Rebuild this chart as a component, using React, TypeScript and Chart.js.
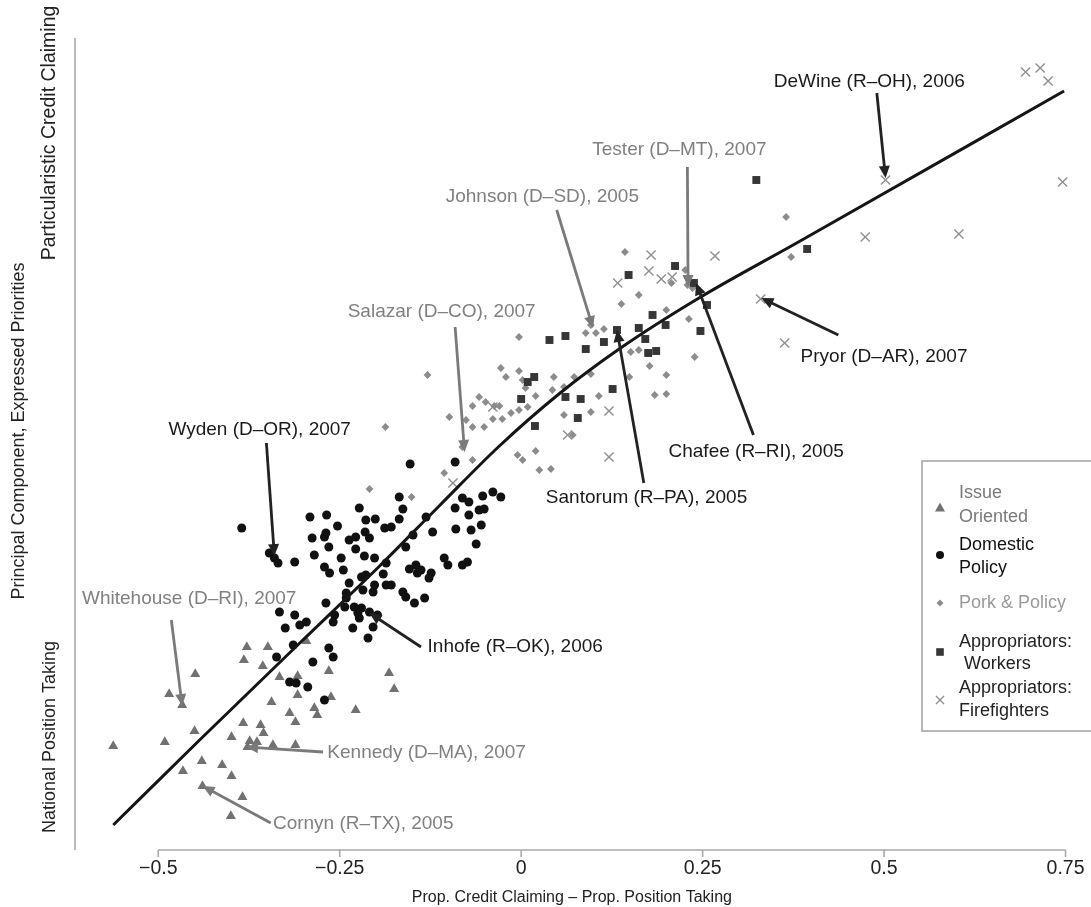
import React, { useEffect, useRef } from "react";
import { Chart, registerables } from "chart.js";

Chart.register(...registerables);

// ---------- axis ----------
const xTicks = [-0.5, -0.25, 0, 0.25, 0.5, 0.75];
const xTickLabels = ["\u22120.5", "\u22120.25", "0", "0.25", "0.5", "0.75"];
const xTitle = "Prop. Credit Claiming \u2013 Prop. Position Taking";
const yTitle = "Principal Component, Expressed Priorities";
const yTopLabel = "Particularistic Credit Claiming";
const yBottomLabel = "National Position Taking";

// ---------- series ----------
const issueOriented: [number, number][] = [
  [-0.562, -2.96], [-0.491, -2.92], [-0.485, -2.44], [-0.467, -2.55], [-0.449, -2.24],
  [-0.45, -2.81], [-0.466, -3.21], [-0.44, -3.11], [-0.412, -3.15], [-0.399, -3.26],
  [-0.439, -3.36], [-0.384, -3.47], [-0.4, -3.66], [-0.399, -2.87], [-0.383, -2.73],
  [-0.359, -2.75], [-0.355, -2.83], [-0.374, -2.91], [-0.364, -2.92], [-0.342, -2.95],
  [-0.311, -2.95], [-0.377, -2.97], [-0.378, -1.97], [-0.349, -1.97], [-0.382, -2.1],
  [-0.356, -2.16], [-0.333, -2.27], [-0.308, -2.26], [-0.265, -2.21], [-0.182, -2.23],
  [-0.175, -2.39], [-0.308, -2.45], [-0.344, -2.52], [-0.262, -2.47], [-0.319, -2.63],
  [-0.311, -2.72], [-0.285, -2.58], [-0.281, -2.65], [-0.228, -2.6], [-0.296, -1.91],
];

const domesticPolicy: [number, number][] = [
  [-0.153, -0.14], [-0.091, -0.12], [-0.385, -0.78], [-0.347, -1.03], [-0.34, -1.08],
  [-0.335, -1.13], [-0.312, -1.12], [-0.291, -0.67], [-0.268, -0.65], [-0.223, -0.58],
  [-0.168, -0.47], [-0.163, -0.59], [-0.214, -0.7], [-0.201, -0.69], [-0.188, -0.78],
  [-0.179, -0.77], [-0.168, -0.69], [-0.131, -0.67], [-0.122, -0.82], [-0.091, -0.58],
  [-0.09, -0.79], [-0.253, -0.76], [-0.288, -0.88], [-0.271, -0.87], [-0.269, -0.83],
  [-0.265, -0.97], [-0.237, -0.9], [-0.228, -0.87], [-0.215, -0.82], [-0.209, -0.88],
  [-0.228, -0.99], [-0.216, -1.06], [-0.202, -1.08], [-0.285, -1.05], [-0.248, -1.08],
  [-0.271, -1.17], [-0.264, -1.23], [-0.245, -1.2], [-0.186, -1.13], [-0.159, -0.97],
  [-0.149, -0.85], [-0.145, -1.15], [-0.138, -1.2], [-0.106, -1.08], [-0.101, -1.15],
  [-0.22, -1.27], [-0.19, -1.24], [-0.154, -1.19], [-0.124, -1.23], [-0.127, -1.28],
  [-0.081, -0.48], [-0.072, -0.52], [-0.053, -0.46], [-0.039, -0.42], [-0.028, -0.47],
  [-0.072, -0.65], [-0.058, -0.6], [-0.051, -0.59], [-0.069, -0.8], [-0.055, -0.75],
  [-0.062, -0.94], [-0.081, -1.15], [-0.074, -1.12], [-0.214, -1.25], [-0.186, -1.35],
  [-0.143, -1.23], [-0.237, -1.33], [-0.241, -1.43], [-0.241, -1.48], [-0.218, -1.4],
  [-0.202, -1.35], [-0.204, -1.42], [-0.179, -1.35], [-0.163, -1.42], [-0.159, -1.47],
  [-0.147, -1.53], [-0.133, -1.48], [-0.269, -1.53], [-0.243, -1.57], [-0.23, -1.57],
  [-0.22, -1.58], [-0.209, -1.62], [-0.198, -1.65], [-0.225, -1.63], [-0.223, -1.68],
  [-0.204, -1.77], [-0.232, -1.78], [-0.211, -1.88], [-0.259, -1.72], [-0.257, -1.65],
  [-0.333, -1.62], [-0.312, -1.65], [-0.305, -1.75], [-0.296, -1.72], [-0.325, -1.78],
  [-0.314, -1.95], [-0.337, -2.07], [-0.287, -2.12], [-0.265, -1.98], [-0.259, -2.07],
  [-0.319, -2.32], [-0.31, -2.33], [-0.294, -2.37], [-0.271, -2.5],
];

const porkPolicy: [number, number][] = [
  [0.143, 1.98], [0.365, 2.33], [0.372, 1.93], [0.207, 1.67], [0.162, 1.55],
  [0.226, 1.8], [0.229, 1.65], [0.236, 1.62], [0.138, 1.46], [0.2, 1.4],
  [0.231, 1.31], [0.239, 0.93], [0.096, 1.25], [0.103, 1.17], [0.089, 1.17],
  [0.114, 1.21], [0.151, 0.98], [0.162, 1.0], [0.177, 0.84], [0.2, 0.75],
  [0.184, 0.55], [0.2, 0.56], [0.149, 0.73], [-0.003, 1.13], [-0.028, 0.82],
  [-0.021, 0.73], [-0.003, 0.79], [0.002, 0.7], [0.006, 0.62], [0.045, 0.73],
  [0.073, 0.73], [0.096, 0.76], [0.059, 0.63], [0.043, 0.6], [0.02, 0.54],
  [0.107, 0.54], [0.096, 0.38], [0.059, 0.35], [0.071, 0.15], [-0.099, 0.33],
  [-0.067, 0.44], [-0.058, 0.53], [-0.049, 0.48], [-0.037, 0.44], [-0.03, 0.44],
  [-0.076, 0.3], [-0.067, 0.23], [-0.051, 0.23], [-0.039, 0.31], [-0.026, 0.31],
  [-0.014, 0.37], [-0.003, 0.4], [0.009, 0.43], [-0.005, -0.05], [0.002, -0.1],
  [0.02, -0.01], [0.025, -0.2], [0.041, -0.19], [-0.067, -0.1], [-0.129, 0.75],
  [-0.187, 0.23], [-0.106, -0.23], [-0.209, -0.39], [-0.151, -0.47], [-0.081, 0.03],
];

const appropWorkers: [number, number][] = [
  [0.324, 2.7], [0.394, 2.01], [0.212, 1.84], [0.148, 1.75], [0.238, 1.67],
  [0.181, 1.35], [0.199, 1.25], [0.256, 1.45], [0.247, 1.19], [0.039, 1.1],
  [0.061, 1.14], [0.089, 1.01], [0.114, 1.08], [0.132, 1.2], [0.162, 1.22],
  [0.171, 1.11], [0.175, 0.97], [0.186, 0.99], [0.018, 0.73], [0.009, 0.68],
  [0.0, 0.51], [0.019, 0.24], [0.061, 0.53], [0.082, 0.51], [0.078, 0.32],
  [0.126, 0.61],
];

const appropFirefighters: [number, number][] = [
  [0.695, 3.78], [0.715, 3.82], [0.726, 3.69], [0.502, 2.7], [0.746, 2.68],
  [0.474, 2.13], [0.603, 2.16], [0.179, 1.95], [0.267, 1.94], [0.176, 1.79],
  [0.133, 1.67], [0.193, 1.71], [0.208, 1.73], [0.33, 1.51], [0.363, 1.07],
  [0.121, 0.39], [0.064, 0.15], [0.121, -0.07], [-0.094, -0.33], [-0.039, 0.43],
];

const fittedCurve: [number, number][] = [
  [-0.562, -3.75], [-0.443, -2.9], [-0.305, -1.93], [-0.195, -1.16], [-0.113, -0.56],
  [-0.03, 0.04], [0.052, 0.56], [0.135, 1.01], [0.245, 1.52], [0.382, 2.08],
  [0.748, 3.59],
];

// ---------- annotations (data coordinates) ----------
type Ann = { text: string; tx: number; ty: number; x1: number; y1: number; x2: number; y2: number; dark: boolean };
const annotations: Ann[] = [
  { text: "DeWine (R\u2013OH), 2006", tx: 0.348, ty: 3.68, x1: 0.49, y1: 3.57, x2: 0.502, y2: 2.72, dark: true },
  { text: "Tester (D\u2013MT), 2007", tx: 0.098, ty: 3.0, x1: 0.229, y1: 2.83, x2: 0.23, y2: 1.63, dark: false },
  { text: "Johnson (D\u2013SD), 2005", tx: -0.104, ty: 2.53, x1: 0.049, y1: 2.4, x2: 0.099, y2: 1.22, dark: false },
  { text: "Salazar (D\u2013CO), 2007", tx: -0.239, ty: 1.38, x1: -0.091, y1: 1.23, x2: -0.078, y2: -0.02, dark: false },
  { text: "Wyden (D\u2013OR), 2007", tx: -0.486, ty: 0.2, x1: -0.351, y1: 0.07, x2: -0.34, y2: -1.06, dark: true },
  { text: "Whitehouse (D\u2013RI), 2007", tx: -0.605, ty: -1.49, x1: -0.482, y1: -1.7, x2: -0.467, y2: -2.56, dark: false },
  { text: "Inhofe (R\u2013OK), 2006", tx: -0.129, ty: -1.97, x1: -0.138, y1: -1.97, x2: -0.209, y2: -1.63, dark: true },
  { text: "Kennedy (D\u2013MA), 2007", tx: -0.267, ty: -3.03, x1: -0.273, y1: -3.02, x2: -0.379, y2: -2.97, dark: false },
  { text: "Cornyn (R\u2013TX), 2005", tx: -0.342, ty: -3.74, x1: -0.345, y1: -3.73, x2: -0.439, y2: -3.36, dark: false },
  { text: "Pryor (D\u2013AR), 2007", tx: 0.385, ty: 0.93, x1: 0.437, y1: 1.15, x2: 0.331, y2: 1.52, dark: true },
  { text: "Chafee (R\u2013RI), 2005", tx: 0.203, ty: -0.02, x1: 0.32, y1: 0.15, x2: 0.241, y2: 1.67, dark: true },
  { text: "Santorum (R\u2013PA), 2005", tx: 0.034, ty: -0.48, x1: 0.169, y1: -0.33, x2: 0.132, y2: 1.2, dark: true },
];

// ---------- legend ----------
const legendLabels = [["Issue", "Oriented"], ["Domestic", "Policy"], ["Pork & Policy"], ["Appropriators:", " Workers"], ["Appropriators:", "Firefighters"]];
const legendShapes = ["triangle", "circle", "diamond", "square", "cross"];
const legendTextColors = ["#7a7a7a", "#111111", "#999999", "#222222", "#222222"];

const COL_TRI = "#717171";
const COL_DOT = "#111111";
const COL_DIA = "#8c8c8c";
const COL_SQ = "#363636";
const COL_X = "#8f8f8f";
const GRAY_TXT = "#808080";
const DARK_TXT = "#1a1a1a";
const FONT = '"Liberation Sans", Arial, Helvetica, sans-serif';

function drawArrow(ctx: CanvasRenderingContext2D, x1: number, y1: number, x2: number, y2: number, color: string) {
  const ang = Math.atan2(y2 - y1, x2 - x1);
  const headLen = 12;
  const headW = 5.5;
  const bx = x2 - Math.cos(ang) * headLen * 0.8;
  const by = y2 - Math.sin(ang) * headLen * 0.8;
  ctx.strokeStyle = color;
  ctx.fillStyle = color;
  ctx.lineWidth = 2.8;
  ctx.lineCap = "butt";
  ctx.beginPath();
  ctx.moveTo(x1, y1);
  ctx.lineTo(bx, by);
  ctx.stroke();
  const hx = x2 - Math.cos(ang) * headLen;
  const hy = y2 - Math.sin(ang) * headLen;
  ctx.beginPath();
  ctx.moveTo(x2, y2);
  ctx.lineTo(hx + Math.cos(ang + Math.PI / 2) * headW, hy + Math.sin(ang + Math.PI / 2) * headW);
  ctx.lineTo(hx - Math.cos(ang + Math.PI / 2) * headW, hy - Math.sin(ang + Math.PI / 2) * headW);
  ctx.closePath();
  ctx.fill();
}

function drawShape(ctx: CanvasRenderingContext2D, shape: string, x: number, y: number) {
  ctx.beginPath();
  if (shape === "triangle") {
    ctx.fillStyle = COL_TRI;
    ctx.moveTo(x, y - 5.5);
    ctx.lineTo(x + 5, y + 3.5);
    ctx.lineTo(x - 5, y + 3.5);
    ctx.closePath();
    ctx.fill();
  } else if (shape === "circle") {
    ctx.fillStyle = COL_DOT;
    ctx.arc(x, y, 4, 0, Math.PI * 2);
    ctx.fill();
  } else if (shape === "diamond") {
    ctx.fillStyle = COL_DIA;
    ctx.moveTo(x, y - 3.5);
    ctx.lineTo(x + 3.5, y);
    ctx.lineTo(x, y + 3.5);
    ctx.lineTo(x - 3.5, y);
    ctx.closePath();
    ctx.fill();
  } else if (shape === "square") {
    ctx.fillStyle = COL_SQ;
    ctx.rect(x - 3.8, y - 3.8, 7.6, 7.6);
    ctx.fill();
  } else {
    ctx.strokeStyle = COL_X;
    ctx.lineWidth = 1.4;
    ctx.moveTo(x - 4, y - 4);
    ctx.lineTo(x + 4, y + 4);
    ctx.moveTo(x + 4, y - 4);
    ctx.lineTo(x - 4, y + 4);
    ctx.stroke();
  }
}

const decorPlugin = {
  id: "decor",
  afterDatasetsDraw(chart: any) {
    const ctx: CanvasRenderingContext2D = chart.ctx;
    const xs = chart.scales.x;
    const ys = chart.scales.y;
    const area = chart.chartArea;
    ctx.save();

    // axes
    ctx.strokeStyle = "#a9a9a9";
    ctx.lineWidth = 1.6;
    ctx.beginPath();
    ctx.moveTo(area.left, area.top);
    ctx.lineTo(area.left, area.bottom);
    ctx.stroke();
    const xa = xs.getPixelForValue(xTicks[0]);
    const xb = xs.getPixelForValue(xTicks[xTicks.length - 1]);
    ctx.beginPath();
    ctx.moveTo(xa, area.bottom);
    ctx.lineTo(xb, area.bottom);
    xTicks.forEach((t) => {
      const px = xs.getPixelForValue(t);
      ctx.moveTo(px, area.bottom);
      ctx.lineTo(px, area.bottom + 7);
    });
    ctx.stroke();

    // tick labels
    ctx.fillStyle = "#222";
    ctx.font = `19.5px ${FONT}`;
    ctx.textAlign = "center";
    ctx.textBaseline = "middle";
    xTicks.forEach((t, i) => {
      ctx.fillText(xTickLabels[i], xs.getPixelForValue(t), area.bottom + 19);
    });
    ctx.font = `16px ${FONT}`;
    ctx.fillText(xTitle, (xa + xb) / 2 - 40, area.bottom + 48);

    // y labels
    const drawV = (text: string, x: number, y: number, size: number) => {
      ctx.save();
      ctx.translate(x, y);
      ctx.rotate(-Math.PI / 2);
      ctx.font = `${size}px ${FONT}`;
      ctx.fillStyle = "#222";
      ctx.textAlign = "center";
      ctx.textBaseline = "middle";
      ctx.fillText(text, 0, 0);
      ctx.restore();
    };
    drawV(yTopLabel, 50, 133, 19.5);
    drawV(yTitle, 19, 431, 18);
    drawV(yBottomLabel, 50, 737, 18);

    // annotations
    annotations.forEach((a) => {
      const col = a.dark ? "#222222" : "#7a7a7a";
      drawArrow(ctx, xs.getPixelForValue(a.x1), ys.getPixelForValue(a.y1), xs.getPixelForValue(a.x2), ys.getPixelForValue(a.y2), col);
    });
    ctx.font = `19px ${FONT}`;
    ctx.textAlign = "left";
    ctx.textBaseline = "middle";
    annotations.forEach((a) => {
      ctx.fillStyle = a.dark ? DARK_TXT : GRAY_TXT;
      ctx.fillText(a.text, xs.getPixelForValue(a.tx), ys.getPixelForValue(a.ty));
    });

    // legend box
    const lx = 922;
    const ly = 461;
    ctx.fillStyle = "#ffffff";
    ctx.fillRect(lx, ly, 200, 270);
    ctx.strokeStyle = "#a0a0a0";
    ctx.lineWidth = 1.5;
    ctx.strokeRect(lx, ly, 200, 270);
    const rows = [
      { my: 508, ty: [493, 517] },
      { my: 555, ty: [545, 568] },
      { my: 603, ty: [603] },
      { my: 652, ty: [642, 664] },
      { my: 700, ty: [688, 711] },
    ];
    ctx.font = `18px ${FONT}`;
    rows.forEach((r, i) => {
      drawShape(ctx, legendShapes[i], 940, r.my);
      ctx.fillStyle = legendTextColors[i];
      legendLabels[i].forEach((line, j) => {
        ctx.fillText(line, 959, r.ty[j]);
      });
    });

    ctx.restore();
  },
};

export default function App() {
  const ref = useRef<HTMLCanvasElement | null>(null);
  useEffect(() => {
    if (!ref.current) return;
    const toPts = (arr: [number, number][]) => arr.map(([x, y]) => ({ x, y }));
    const chart = new Chart(ref.current, {
      type: "scatter",
      data: {
        datasets: [
          {
            type: "line",
            label: "Fit",
            data: toPts(fittedCurve),
            borderColor: "#151515",
            borderWidth: 3,
            pointRadius: 0,
            fill: false,
            tension: 0.4,
            cubicInterpolationMode: "monotone",
          } as any,
          {
            label: "Appropriators: Workers",
            data: toPts(appropWorkers),
            pointStyle: "rect",
            pointRadius: 5.6,
            backgroundColor: COL_SQ,
            borderColor: COL_SQ,
            borderWidth: 0,
          },
          {
            label: "Domestic Policy",
            data: toPts(domesticPolicy),
            pointStyle: "circle",
            pointRadius: 4.5,
            backgroundColor: COL_DOT,
            borderColor: COL_DOT,
            borderWidth: 0,
          },
          {
            label: "Issue Oriented",
            data: toPts(issueOriented),
            pointStyle: "triangle",
            pointRadius: 5.8,
            backgroundColor: COL_TRI,
            borderColor: COL_TRI,
            borderWidth: 0,
          },
          {
            label: "Pork & Policy",
            data: toPts(porkPolicy),
            pointStyle: "rectRot",
            pointRadius: 3.9,
            backgroundColor: COL_DIA,
            borderColor: COL_DIA,
            borderWidth: 0,
          },
          {
            label: "Appropriators: Firefighters",
            data: toPts(appropFirefighters),
            pointStyle: "crossRot",
            pointRadius: 6.5,
            backgroundColor: COL_X,
            borderColor: COL_X,
            borderWidth: 1.4,
          },
        ],
      },
      options: {
        animation: false,
        responsive: false,
        events: [],
        layout: { padding: { left: 75, right: 6, top: 38, bottom: 57 } },
        plugins: { legend: { display: false }, tooltip: { enabled: false } },
        scales: {
          x: { type: "linear", display: false, min: -0.6147, max: 0.7742 },
          y: { type: "linear", display: false, min: -4.0, max: 4.12 },
        },
      },
      plugins: [decorPlugin],
    });
    return () => chart.destroy();
  }, []);
  return (
    <div style={{ position: "absolute", left: 0, top: 0, width: 1091, height: 907, background: "#fff" }}>
      <canvas ref={ref} width={1091} height={907} style={{ display: "block" }} />
    </div>
  );
}
